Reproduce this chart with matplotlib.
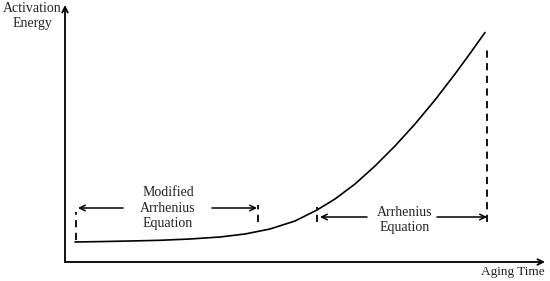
import matplotlib.pyplot as plt

plt.rcParams['font.family'] = ['Liberation Serif', 'DejaVu Serif']

# curve (arbitrary units, origin at axis corner)
aging_time = [10, 35, 65, 95, 125, 155, 180, 205, 230, 252, 270, 290, 310, 330,
              350, 370, 390, 405, 420]
activation = [20, 20.4, 21, 21.7, 23, 25, 28, 33, 41, 52, 63, 78, 96, 116,
              138, 162, 188, 208.5, 229.5]

# region boundaries (dashed markers): time, bottom, top
bound_t = [11, 193, 252, 422]
bound_lo = [22, 40, 40, 40]
bound_hi = [50, 57, 55, 214]

region_labels = ['Modified\nArrhenius\nEquation', 'Arrhenius\nEquation']
region_text_t = [103, 340]
region_text_e = [54, 42]
arrow_e = [54, 45]
arrow_spans = [((58, 13), (147, 192)), ((302, 255), (372, 422))]

fig = plt.figure(figsize=(5.5, 2.81), dpi=100)
ax = fig.add_axes([65 / 550, 19 / 281, 480 / 550, 257 / 281])
ax.set_xlim(0, 480)
ax.set_ylim(0, 257)
ax.axis('off')

# axes with arrow heads
ax.annotate('', xy=(0, 1), xytext=(0, 0), xycoords='axes fraction',
            arrowprops=dict(arrowstyle='->', lw=1.3, color='black', shrinkA=0, shrinkB=0))
ax.annotate('', xy=(1, 0), xytext=(0, 0), xycoords='axes fraction',
            arrowprops=dict(arrowstyle='->', lw=1.3, color='black', shrinkA=0, shrinkB=0))

ax.plot(aging_time, activation, color='black', lw=1.2, solid_capstyle='round',
        solid_joinstyle='round')

for t, lo, hi in zip(bound_t, bound_lo, bound_hi):
    ax.plot([t, t], [lo, hi], color='black', lw=1.3, linestyle=(0, (4, 3)))

for label, tx, ty, ae, spans in zip(region_labels, region_text_t, region_text_e, arrow_e, arrow_spans):
    ax.text(tx, ty, label, ha='center', va='center', fontsize=10, color='#222222',
            linespacing=1.25)
    for start, end in spans:
        ax.annotate('', xy=(end, ae), xytext=(start, ae),
                    arrowprops=dict(arrowstyle='->', lw=1.1, color='black',
                                    shrinkA=0, shrinkB=0))

fig.text(32 / 550, 1 - 16 / 281, 'Activation\nEnergy', ha='center', va='center',
         fontsize=10, color='#222222', linespacing=1.3)
fig.text(513 / 550, 1 - 272 / 281, 'Aging Time', ha='center', va='center',
         fontsize=9.5, color='#222222')

fig.savefig('out.png', dpi=100)
